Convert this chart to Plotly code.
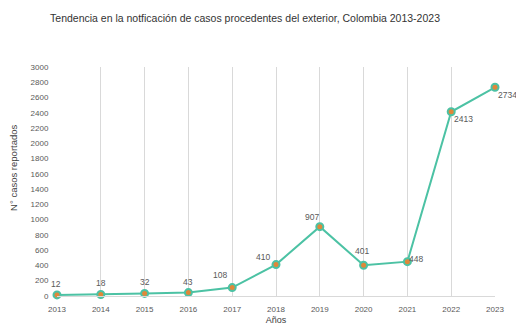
import plotly.graph_objects as go

years = ["2013", "2014", "2015", "2016", "2017", "2018", "2019", "2020", "2021", "2022", "2023"]
cases = [12, 18, 32, 43, 108, 410, 907, 401, 448, 2413, 2734]
labels = ["12", "18", "32", "43", "108", "410", "907", "401", "448", "2413", "2734"]
y_ticks = list(range(0, 3001, 200))

# label offsets (pixels) per point
offsets = [(-1, 11), (0, 11), (0, 11), (0, 11), (-12, 13), (-13, 8), (-8, 10), (-2, 14), (9, 3), (12, -7), (12, -8)]

fig = go.Figure()
fig.add_trace(go.Scatter(
    x=years, y=cases, mode="lines+markers",
    line=dict(color="#4cc2a4", width=2),
    marker=dict(size=7, color="#e0883a", line=dict(color="#4cc2a4", width=2)),
    cliponaxis=False, showlegend=False, hoverinfo="x+y"))

for i, (yv, t) in enumerate(zip(cases, labels)):
    dx, dy = offsets[i]
    fig.add_annotation(x=i, y=yv, text=t, showarrow=False, xshift=dx, yshift=dy,
                       font=dict(size=8.5, color="#595959", family="Liberation Sans Narrow, Liberation Sans"))

fig.add_annotation(x=-0.115, y=0.56, xref="paper", yref="paper", text="N° casos reportados",
                   textangle=-90, showarrow=False,
                   font=dict(size=9.5, color="#404040", family="Liberation Sans Narrow, Liberation Sans"))

fig.update_layout(
    width=516, height=327,
    margin=dict(l=57, r=21, t=67, b=31),
    paper_bgcolor="white", plot_bgcolor="white",
    title=dict(text="Tendencia en la notficación de casos procedentes del exterior, Colombia 2013-2023",
               x=0.097, xanchor="left", y=0.945, yanchor="middle",
               font=dict(size=10.5, color="#333333", family="Liberation Sans Narrow, Liberation Sans")),
    xaxis=dict(type="category", range=[0, 10], showgrid=True, gridcolor="#d9d9d9", gridwidth=1,
               showline=True, linecolor="#d9d9d9", zeroline=False, automargin=False,
               ticks="outside", ticklen=5, tickcolor="rgba(0,0,0,0)",
               tickfont=dict(size=8, color="#595959", family="Liberation Sans Narrow, Liberation Sans"),
               title=dict(text="Años", font=dict(size=9, color="#404040", family="Liberation Sans"), standoff=4)),
    yaxis=dict(range=[-2, 3000], tickvals=y_ticks, showgrid=False, zeroline=False, showline=False,
               automargin=False, ticks="outside", ticklen=6, tickcolor="rgba(0,0,0,0)",
               tickfont=dict(size=8, color="#595959", family="Liberation Sans Narrow, Liberation Sans")),
)

fig.write_html("out.html")
